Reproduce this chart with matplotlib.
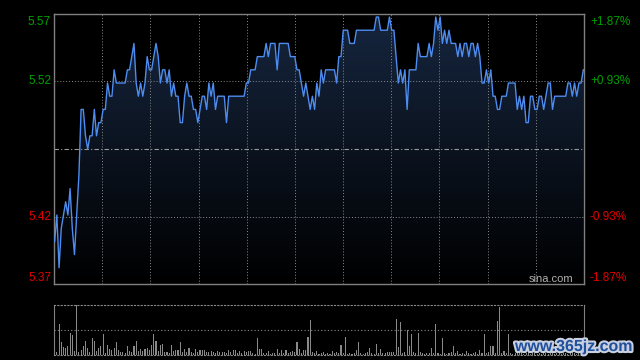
import numpy as np
import matplotlib
matplotlib.use("Agg")
import matplotlib.pyplot as plt
from matplotlib.colors import LinearSegmentedColormap
import matplotlib.patheffects as pe

# minute prices (241 points)
prices = [
    5.40, 5.42, 5.38, 5.41, 5.42, 5.43, 5.42, 5.44, 5.41, 5.39,
    5.42, 5.45, 5.50, 5.50, 5.48, 5.47, 5.48, 5.48, 5.50, 5.48,
    5.49, 5.49, 5.50, 5.50, 5.52, 5.51, 5.51, 5.53, 5.52, 5.52,
    5.52, 5.52, 5.52, 5.53, 5.53, 5.54, 5.55, 5.52, 5.51, 5.52,
    5.51, 5.52, 5.54, 5.53, 5.53, 5.54, 5.55, 5.54, 5.52, 5.53,
    5.53, 5.52, 5.53, 5.51, 5.52, 5.51, 5.51, 5.49, 5.49, 5.51,
    5.52, 5.51, 5.51, 5.50, 5.50, 5.49, 5.50, 5.51, 5.51, 5.50,
    5.52, 5.51, 5.52, 5.50, 5.51, 5.51, 5.51, 5.51, 5.49, 5.51,
    5.51, 5.51, 5.51, 5.51, 5.51, 5.51, 5.51, 5.52, 5.52, 5.53,
    5.53, 5.53, 5.54, 5.54, 5.54, 5.54, 5.55, 5.54, 5.55, 5.55,
    5.55, 5.53, 5.55, 5.55, 5.55, 5.55, 5.55, 5.54, 5.54, 5.54,
    5.53, 5.53, 5.52, 5.51, 5.52, 5.51, 5.50, 5.51, 5.50, 5.52,
    5.51, 5.53, 5.52, 5.53, 5.53, 5.53, 5.53, 5.53, 5.52, 5.54,
    5.54, 5.56, 5.56, 5.56, 5.55, 5.55, 5.55, 5.56, 5.56, 5.56,
    5.56, 5.56, 5.56, 5.56, 5.56, 5.56, 5.57, 5.57, 5.56, 5.56,
    5.56, 5.56, 5.57, 5.56, 5.56, 5.54, 5.52, 5.53, 5.52, 5.53,
    5.50, 5.53, 5.53, 5.53, 5.53, 5.55, 5.54, 5.54, 5.54, 5.54,
    5.55, 5.54, 5.55, 5.57, 5.56, 5.57, 5.55, 5.56, 5.55, 5.56,
    5.55, 5.55, 5.55, 5.54, 5.55, 5.54, 5.55, 5.55, 5.54, 5.55,
    5.55, 5.54, 5.55, 5.54, 5.52, 5.52, 5.53, 5.52, 5.53, 5.51,
    5.51, 5.50, 5.50, 5.51, 5.51, 5.51, 5.52, 5.52, 5.52, 5.52,
    5.50, 5.51, 5.50, 5.51, 5.49, 5.49, 5.51, 5.51, 5.50, 5.50,
    5.51, 5.51, 5.50, 5.51, 5.52, 5.52, 5.50, 5.51, 5.51, 5.51,
    5.51, 5.51, 5.51, 5.52, 5.52, 5.51, 5.52, 5.51, 5.52, 5.52,
    5.53,
]

# minute volumes (relative, max = 100)
volumes = [
    54, 6, 61, 26, 16, 13, 18, 43, 39, 7,
    100, 5, 10, 17, 28, 13, 5, 34, 28, 7,
    13, 17, 41, 3, 20, 12, 9, 13, 26, 10,
    5, 5, 4, 18, 7, 6, 17, 28, 7, 12,
    7, 12, 13, 10, 20, 42, 28, 7, 19, 22,
    5, 6, 3, 19, 8, 10, 9, 26, 6, 12,
    6, 14, 5, 3, 11, 6, 9, 10, 10, 5,
    5, 7, 5, 3, 7, 5, 6, 5, 3, 10,
    6, 10, 10, 3, 7, 3, 7, 5, 7, 7,
    3, 2, 34, 12, 12, 3, 3, 7, 2, 3,
    3, 12, 3, 10, 3, 10, 3, 5, 7, 6,
    26, 12, 3, 10, 9, 36, 70, 5, 3, 7,
    2, 3, 6, 2, 3, 2, 8, 3, 6, 3,
    20, 3, 36, 2, 3, 2, 3, 10, 25, 3,
    2, 3, 6, 13, 3, 2, 22, 3, 11, 3,
    3, 5, 6, 6, 5, 72, 15, 66, 3, 6,
    50, 17, 42, 6, 3, 44, 5, 3, 2, 3,
    3, 13, 3, 62, 3, 2, 34, 3, 2, 3,
    5, 17, 3, 8, 2, 3, 2, 8, 3, 2,
    3, 6, 2, 9, 3, 42, 3, 6, 17, 18,
    3, 68, 96, 3, 8, 3, 41, 3, 2, 3,
    4, 3, 6, 2, 3, 5, 2, 3, 4, 2,
    3, 2, 5, 3, 2, 4, 3, 2, 3, 5,
    2, 3, 4, 2, 3, 6, 3, 2, 4, 3,
    5,
]

prev_close = 5.47
pct = 0.0187
left_labels = ["5.57", "5.52", "5.42", "5.37"]
right_labels = ["+1.87%", "+0.93%", "-0.93%", "-1.87%"]
label_colors = ["#00a000", "#00a000", "#e00000", "#e00000"]

t = np.arange(len(prices))
p = np.array(prices)
ylo, yhi = prev_close * (1 - pct), prev_close * (1 + pct)
xmin, xmax = -0.3, len(prices) - 0.7

fig = plt.figure(figsize=(6.4, 3.6), dpi=100, facecolor="black")
ax = fig.add_axes([54 / 640, 76 / 360, 530 / 640, 270 / 360], facecolor="black")
ax.set_xlim(xmin, xmax)
ax.set_ylim(ylo, yhi)

# gradient fill under the line
cmap = LinearSegmentedColormap.from_list("g", ["#000000", "#16263f"])
grad = np.linspace(0, 1, 256).reshape(-1, 1)
im = ax.imshow(grad, extent=[xmin, xmax, ylo, yhi], origin="lower",
               aspect="auto", cmap=cmap, zorder=1)
poly = ax.fill_between(t, p, ylo, color="none", lw=0)
im.set_clip_path(poly.get_paths()[0], ax.transData)

ax.plot(t, p, color="#4d8cf0", lw=1.0, zorder=3)

# grid
for xv in np.linspace(xmin, xmax, 12)[1:-1]:
    ax.axvline(xv, color="#8a8a8a", ls=(0, (1, 2)), lw=0.7, zorder=2)
q = (yhi - ylo) / 4
for yv in [ylo + q, yhi - q]:
    ax.axhline(yv, color="#8a8a8a", ls=(0, (1, 2)), lw=0.7, zorder=2)
ax.axhline(prev_close, color="#9a9a9a", ls=(0, (4, 2, 1, 2)), lw=0.8, zorder=2)

for s in ax.spines.values():
    s.set_color("#808080")
    s.set_linewidth(1.0)
ax.set_xticks([])
ax.set_yticks([])

ypos = [yhi, yhi - q, ylo + q, ylo]
vas = ["top", "center", "center", "bottom"]
for yv, lab_l, lab_r, c, va in zip(ypos, left_labels, right_labels, label_colors, vas):
    off = -2 if va == "top" else 0
    ax.annotate(lab_l, (0, yv), xycoords=("axes fraction", "data"),
                xytext=(-3, off), textcoords="offset pixels",
                ha="right", va=va, color=c, fontsize=8.5, family="Liberation Sans")
    ax.annotate(lab_r, (1, yv), xycoords=("axes fraction", "data"),
                xytext=(6, off), textcoords="offset pixels",
                ha="left", va=va, color=c, fontsize=8.5, family="Liberation Sans")

ax.text(0.98, 0.0, "sina.com", transform=ax.transAxes, ha="right", va="bottom",
        color="#b0b0b0", fontsize=8, family="Liberation Sans")

# volume panel
ax2 = fig.add_axes([54 / 640, 5 / 360, 530 / 640, 50.5 / 360], facecolor="black")
ax2.bar(t, volumes, width=0.5, color="#8a8a8a", lw=0)
ax2.set_xlim(xmin, xmax)
ax2.set_ylim(0, max(volumes))
ax2.axhline(max(volumes) / 2, color="#8a8a8a", ls=(0, (1, 2)), lw=0.8)
for k in ["left", "right"]:
    ax2.spines[k].set_color("#808080")
for k in ["top", "bottom"]:
    ax2.spines[k].set_color("#8a8a8a")
    ax2.spines[k].set_linestyle((0, (1, 2)))
ax2.set_xticks([])
ax2.set_yticks([])

fig.text(515 / 640, 9 / 360, "www.365jz.com", color="#1f4e9c", fontsize=11.5,
         fontweight="bold", ha="left", va="baseline", family="Liberation Sans",
         path_effects=[pe.withStroke(linewidth=3, foreground="#c8d0e0")])

fig.savefig("out.png", dpi=100, facecolor="black")
